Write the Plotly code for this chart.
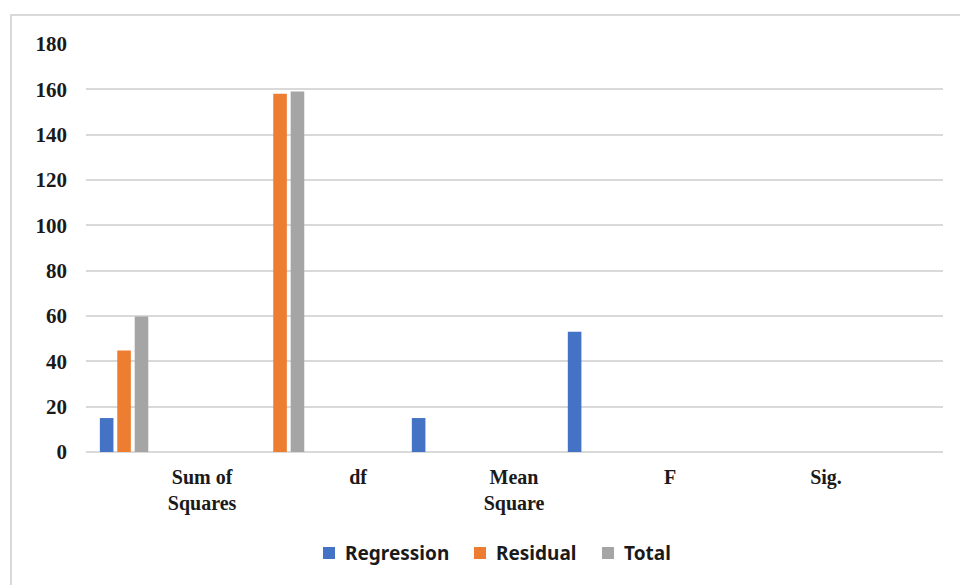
import plotly.graph_objects as go

# ANOVA table columns; bars sit at integer positions, column names between them
categories = ["Sum of<br>Squares", "df", "Mean<br>Square", "F", "Sig."]
regression = [14.98, None, 14.98, 53.0, 0.0]
residual = [44.78, 158, None, None, None]
total = [59.76, 159, None, None, None]
y_ticks = [0, 20, 40, 60, 80, 100, 120, 140, 160, 180]

series_names = ["Regression", "Residual", "Total"]
series_values = [regression, residual, total]
colors = ["#4472C4", "#ED7D31", "#A5A5A5"]

W, H = 960, 585
ML, MR, MT, MB = 86, 17, 44, 133
PW, PH = W - ML - MR, H - MT - MB

positions = list(range(len(categories)))
label_positions = [p + 0.5 for p in positions]


def px_to_paper_x(px):
    return (px - ML) / PW


def px_to_paper_y(py):
    return (H - MB - py) / PH


fig = go.Figure()
for name, vals, col in zip(series_names, series_values, colors):
    fig.add_trace(go.Bar(
        x=positions, y=vals, name=name, showlegend=False,
        marker=dict(color=col, line=dict(width=0)),
    ))

serif = dict(family="Liberation Serif", size=20, color="#1a1a1a", weight="bold")
serif_y = dict(family="Liberation Serif", size=21, color="#1a1a1a", weight="bold")

# Legend drawn as swatches + labels along the bottom
legend_font = dict(family="Noto Sans", size=19, color="#1a1a1a", weight="bold")
swatch_left = [323, 474, 602]
legend_cy = 553
shapes = []
annotations = []
for name, col, sx in zip(series_names, colors, swatch_left):
    shapes.append(dict(
        type="rect", xref="paper", yref="paper",
        x0=px_to_paper_x(sx), x1=px_to_paper_x(sx + 12),
        y0=px_to_paper_y(legend_cy + 6), y1=px_to_paper_y(legend_cy - 6),
        fillcolor=col, line=dict(width=0),
    ))
    annotations.append(dict(
        text=name, xref="paper", yref="paper",
        x=px_to_paper_x(sx + 20), y=px_to_paper_y(legend_cy),
        xanchor="left", yanchor="middle", showarrow=False,
        font=legend_font,
    ))

# Outer chart frame
shapes.append(dict(
    type="rect", xref="paper", yref="paper",
    x0=px_to_paper_x(11), x1=px_to_paper_x(970),
    y0=px_to_paper_y(600), y1=px_to_paper_y(15),
    line=dict(color="#d9d9d9", width=2), fillcolor="rgba(0,0,0,0)",
    layer="below",
))

fig.update_layout(
    width=W, height=H,
    margin=dict(l=ML, r=MR, t=MT, b=MB),
    paper_bgcolor="white", plot_bgcolor="white",
    barmode="group", bargap=0.665, bargroupgap=0.22,
    xaxis=dict(
        range=[-0.244, 5.25],
        tickmode="array", tickvals=label_positions, ticktext=categories,
        showgrid=False, zeroline=False, showline=False, ticks="",
        tickfont=serif, ticklabelstandoff=11,
    ),
    yaxis=dict(
        range=[0, 180], tickvals=y_ticks,
        showgrid=True, gridcolor="#d9d9d9", gridwidth=2,
        zeroline=True, zerolinecolor="#d9d9d9", zerolinewidth=2,
        showline=False, ticks="",
        tickfont=serif_y, ticklabelstandoff=18,
    ),
    showlegend=False,
    shapes=shapes,
    annotations=annotations,
)

fig.write_html("out.html")
